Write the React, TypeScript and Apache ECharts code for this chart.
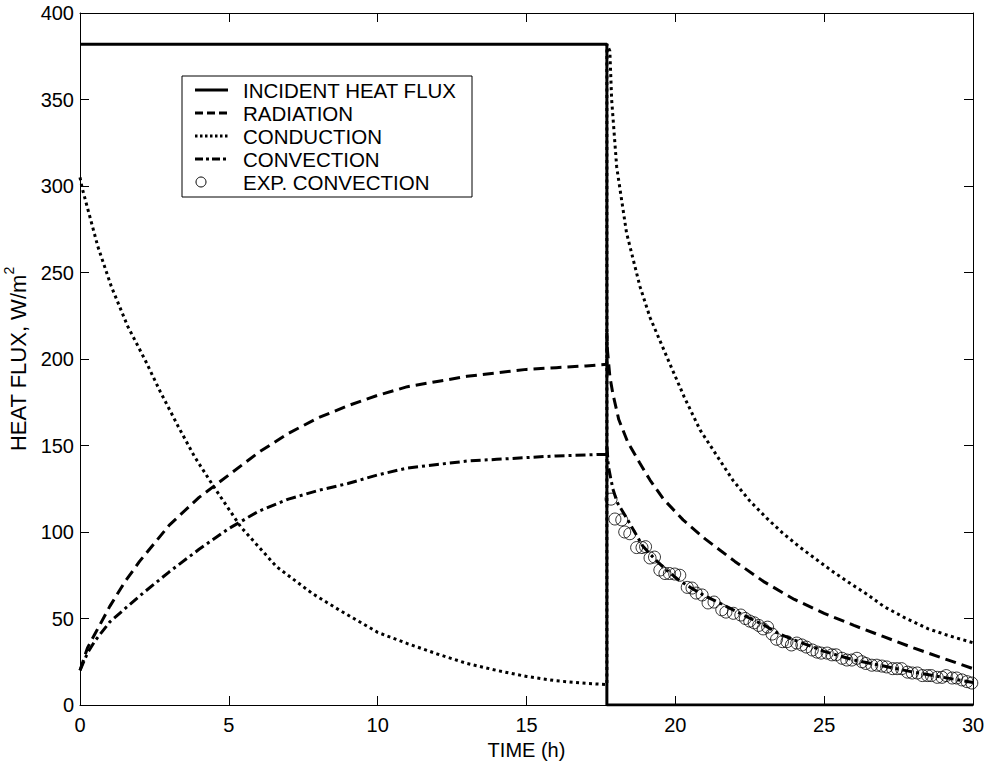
import React, { useEffect, useRef } from "react";
import * as echarts from "echarts";

// ---- data ----
const xTicks = [0, 5, 10, 15, 20, 25, 30];
const yTicks = [0, 50, 100, 150, 200, 250, 300, 350, 400];

const incidentT = [0, 17.7, 17.7, 30];
const incidentV = [382, 382, 0, 0];

const radiationT = [0, 0.25, 0.5, 1, 1.5, 2, 3, 4, 5, 6, 7, 8, 9, 10, 11, 12, 13, 14, 15, 16, 17, 17.7,
  17.7, 17.72, 17.8, 17.9, 18.1, 18.4, 18.8, 19.15, 19.6, 20.26, 21, 22, 23, 24, 25, 26, 27, 28, 29, 30];
const radiationV = [20, 33, 41, 57, 71, 83, 104, 120, 133, 146, 157, 166, 173, 179, 184, 187, 190, 192, 194, 195, 196, 197,
  215, 205, 190, 180, 165, 152, 140, 130, 119, 107, 96, 83, 71, 61, 53, 46, 39.5, 33, 27, 21];

const conductionT = [0, 0.07, 0.6, 1.05, 1.6, 2.2, 2.7, 3.3, 3.85, 4.5, 5.4, 6.6, 7.8, 8.7, 10, 11, 12, 13, 14, 15, 16, 17, 17.7,
  17.7, 17.8, 17.86, 18.03, 18.36, 18.81, 19.15, 19.72, 20.3, 20.83, 21.4, 21.93, 22.5, 23.07, 23.6, 24.2, 24.75, 25.3, 25.9, 26.44, 27, 27.7, 28.5, 29.2, 30];
const conductionV = [305, 299, 265, 242, 219, 199, 181, 161, 143.5, 126, 103, 80, 64.5, 55, 42, 35.5, 29.5, 24, 20, 16.5, 14, 12.5, 11.8,
  382, 378, 350, 311, 273, 242, 224, 201, 178, 159, 144, 130, 118, 108, 99.5, 91, 84, 77, 70, 64, 57, 50.5, 44, 40, 36];

const convectionT = [0, 0.25, 0.5, 1, 2, 3, 4, 5, 6, 7, 8, 9, 10, 11, 12, 13, 14, 15, 16, 17, 17.7,
  17.7, 17.75, 17.9, 18.05, 18.4, 18.9, 19.3, 19.7, 20.1, 20.5, 21, 21.6, 22, 22.4, 23, 23.5, 24, 25, 26, 27, 28, 29, 30];
const convectionV = [20, 30, 37, 48, 63, 77, 90, 102, 112, 119, 124, 128, 133, 137, 139, 141, 142, 143, 144, 144.5, 145,
  150, 138, 125, 117, 107, 92, 84.5, 78, 72.5, 68, 63, 58, 54.5, 51, 46, 41, 37.5, 31, 26, 22.5, 19, 16, 13];

const expT = [17.84, 17.97, 18.2, 18.3, 18.47, 18.7, 18.88, 19.0, 19.15, 19.3, 19.48, 19.65, 19.8, 19.98, 20.15, 20.4, 20.56, 20.7,
  20.9, 21.1, 21.3, 21.56, 21.7, 21.95, 22.2, 22.35, 22.5, 22.65, 22.8, 22.95, 23.1, 23.25, 23.4, 23.6, 23.75, 23.9, 24.08, 24.25,
  24.4, 24.6, 24.76, 24.9, 25.1, 25.26, 25.4, 25.6, 25.76, 25.93, 26.1, 26.27, 26.4, 26.6, 26.77, 26.94, 27.1, 27.3, 27.45, 27.6,
  27.8, 27.96, 28.13, 28.3, 28.47, 28.6, 28.8, 28.96, 29.1, 29.3, 29.45, 29.63, 29.8, 29.96];
const expV = [119, 107.5, 107, 100, 99, 91, 91, 91.5, 85, 85.5, 78, 76, 76, 75.7, 75, 68, 67.6, 64.7,
  63.6, 59, 59.5, 55, 53.7, 53, 52, 50, 48.5, 47.5, 46, 44, 45, 41, 38, 36.6, 36.6, 34.7, 35.8, 34.7,
  33.5, 31.8, 30.6, 30, 30, 29, 29, 27, 26, 26, 27, 25, 24, 23, 23, 22.5, 22, 21, 21, 21,
  19, 18.5, 18.5, 17, 17, 17, 16, 16, 17, 15.6, 15.6, 14.5, 13.5, 12.7];

const legendLabels = ["INCIDENT HEAT FLUX", "RADIATION", "CONDUCTION", "CONVECTION", "EXP. CONVECTION"];

const zip = (a: number[], b: number[]) => a.map((v, i) => [v, b[i]]);

const FONT = "'Liberation Sans', Arial, Helvetica, sans-serif";
const DASH = [11, 6];
const DOT = [3, 3.5];
const DASHDOT = [10, 4, 3, 4];

export default function App() {
  const ref = useRef<HTMLDivElement>(null);
  useEffect(() => {
    if (!ref.current) return;
    const chart = echarts.init(ref.current, undefined, { renderer: "svg" });

    const axisCommon = {
      type: "value" as const,
      axisLine: { show: true, onZero: false, lineStyle: { color: "#000", width: 1 } },
      axisTick: { show: true, inside: true, length: 9, lineStyle: { color: "#000", width: 1 } },
      splitLine: { show: false },
    };
    const labelStyle = { fontSize: 20, color: "#000", fontFamily: FONT };

    const legX = 182, legY = 76, legW = 290, legH = 121;
    const rowY = [90, 113, 136, 159, 182];
    const samples: any[] = [
      { type: "line", shape: { x1: 195, y1: rowY[0], x2: 228, y2: rowY[0] }, style: { stroke: "#000", lineWidth: 3 } },
      { type: "line", shape: { x1: 195, y1: rowY[1], x2: 228, y2: rowY[1] }, style: { stroke: "#000", lineWidth: 3, lineDash: [8, 4] } },
      { type: "line", shape: { x1: 195, y1: rowY[2], x2: 228, y2: rowY[2] }, style: { stroke: "#000", lineWidth: 3, lineDash: [2.5, 2.5] } },
      { type: "line", shape: { x1: 195, y1: rowY[3], x2: 228, y2: rowY[3] }, style: { stroke: "#000", lineWidth: 3, lineDash: [8, 3, 3, 3] } },
      { type: "circle", shape: { cx: 201, cy: rowY[4], r: 5 }, style: { stroke: "#000", lineWidth: 1, fill: "none" } },
    ];
    const texts = legendLabels.map((t, i) => ({
      type: "text",
      x: 243,
      y: rowY[i],
      style: { text: t, fontSize: 20.5, fontFamily: FONT, fill: "#000", verticalAlign: "middle", align: "left" },
    }));

    chart.setOption({
      animation: false,
      backgroundColor: "#fff",
      grid: { left: 80, top: 13, right: 15, bottom: 57, containLabel: false, outerBoundsMode: "none" },
      xAxis: [
        {
          ...axisCommon,
          position: "bottom",
          min: 0, max: 30, interval: 5,
          name: "TIME (h)",
          nameLocation: "middle",
          nameGap: 30,
          nameTextStyle: { fontSize: 20, color: "#000", fontFamily: FONT },
          axisLabel: { ...labelStyle, margin: 10, customValues: xTicks },
        },
        {
          ...axisCommon,
          position: "top",
          min: 0, max: 30, interval: 5,
          axisLabel: { show: false },
        },
      ],
      yAxis: [
        {
          ...axisCommon,
          position: "left",
          min: 0, max: 400, interval: 50,
          name: "{a|HEAT FLUX, W/m}{s|2}",
          nameLocation: "middle",
          nameGap: 47,
          nameTextStyle: {
            fontSize: 22, color: "#000", fontFamily: FONT,
            rich: {
              a: { fontSize: 22, fontFamily: FONT, color: "#000", lineHeight: 28, verticalAlign: "bottom" },
              s: { fontSize: 14, fontFamily: FONT, color: "#000", lineHeight: 28, verticalAlign: "top" },
            },
          },
          axisLabel: { ...labelStyle, margin: 6, customValues: yTicks },
        },
        {
          ...axisCommon,
          position: "right",
          min: 0, max: 400, interval: 50,
          axisLabel: { show: false },
        },
      ],
      series: [
        {
          name: legendLabels[0], type: "line", data: zip(incidentT, incidentV), showSymbol: false, symbol: "none",
          lineStyle: { color: "#000", width: 3, type: "solid" }, z: 5,
        },
        {
          name: legendLabels[1], type: "line", data: zip(radiationT, radiationV), showSymbol: false, symbol: "none",
          lineStyle: { color: "#000", width: 3, type: DASH }, z: 4,
        },
        {
          name: legendLabels[2], type: "line", data: zip(conductionT, conductionV), showSymbol: false, symbol: "none",
          lineStyle: { color: "#000", width: 3, type: DOT }, z: 4,
        },
        {
          name: legendLabels[3], type: "line", data: zip(convectionT, convectionV), showSymbol: false, symbol: "none",
          lineStyle: { color: "#000", width: 3, type: DASHDOT }, z: 4,
        },
        {
          name: legendLabels[4], type: "scatter", data: zip(expT, expV), symbol: "circle", symbolSize: 12,
          itemStyle: { color: "rgba(0,0,0,0)", borderColor: "#000", borderWidth: 1 }, z: 6,
        },
      ],
      graphic: [
        {
          type: "rect", shape: { x: legX, y: legY, width: legW, height: legH },
          style: { fill: "#fff", stroke: "#000", lineWidth: 1 }, z: 100,
        },
        ...samples.map((s) => ({ ...s, z: 101 })),
        ...texts.map((t) => ({ ...t, z: 101 })),
      ],
    });
    return () => chart.dispose();
  }, []);
  return (
    <div
      ref={ref}
      style={{ position: "fixed", left: 0, top: 0, width: 988, height: 762, background: "#fff" }}
    />
  );
}
